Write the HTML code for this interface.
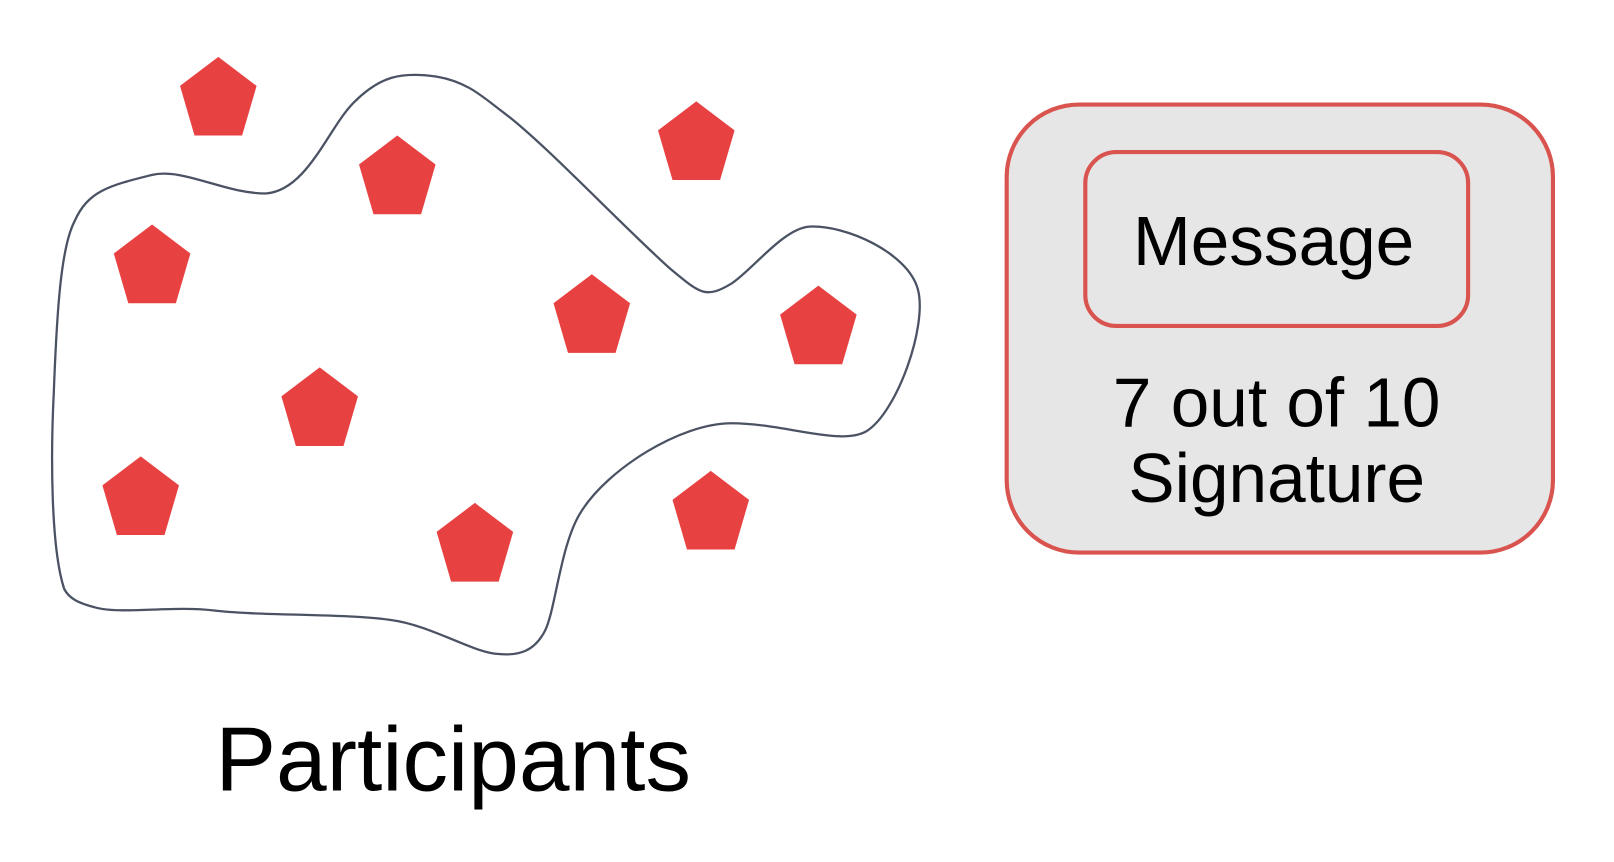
<!DOCTYPE html>
<html><head><style>html,body{margin:0;padding:0;background:#fff;}svg{display:block}</style></head>
<body>
<svg width="1614" height="862" viewBox="0 0 1560 833" preserveAspectRatio="none" xmlns="http://www.w3.org/2000/svg">
<defs><polygon id="p" points="0,0 -37,28 -23,76 23,76 37,28" fill="#e84142"/></defs>
<g transform="translate(-3,-1)">
<path d="M65,570 C52,530 52,440 55,380 C58,300 62,240 75,215 C88,185 110,180 150,170 C180,163 220,188 260,188 C300,185 320,125 345,100 C370,75 390,70 425,75 C455,80 470,95 490,110 C530,140 600,215 650,260 C680,285 685,290 710,275 C730,262 760,222 785,220 C820,218 880,245 890,280 C900,315 870,400 840,418 C815,432 760,410 710,410 C660,410 590,455 565,495 C545,525 540,590 530,610 C520,630 505,635 485,633 C460,632 420,605 380,600 C340,594 250,596 210,591 C170,586 120,595 95,588 C80,584 70,580 65,570 Z" fill="none" stroke="#4a5263" stroke-width="2.2"/>
<use href="#p" x="214" y="56"/>
<use href="#p" x="387" y="132"/>
<use href="#p" x="676" y="99"/>
<use href="#p" x="150" y="218"/>
<use href="#p" x="575" y="266"/>
<use href="#p" x="794" y="277"/>
<use href="#p" x="312" y="356"/>
<use href="#p" x="139" y="442"/>
<use href="#p" x="462" y="487"/>
<use href="#p" x="690" y="456"/>
<rect x="976" y="102" width="528" height="433" rx="70" fill="#e6e6e6" stroke="#d9534f" stroke-width="4"/>
<rect x="1052" y="148" width="370" height="168" rx="30" fill="#e6e6e6" stroke="#d9534f" stroke-width="4"/>
<g font-family="Liberation Sans, sans-serif" fill="#000" text-anchor="middle" font-size="67">
<text x="1234" y="257">Message</text>
<text x="1237" y="413">7 out of 10</text>
<text x="1237" y="486">Signature</text>
<text x="441" y="765" font-size="88">Participants</text>
</g>
</g>
</svg>
</body></html>
